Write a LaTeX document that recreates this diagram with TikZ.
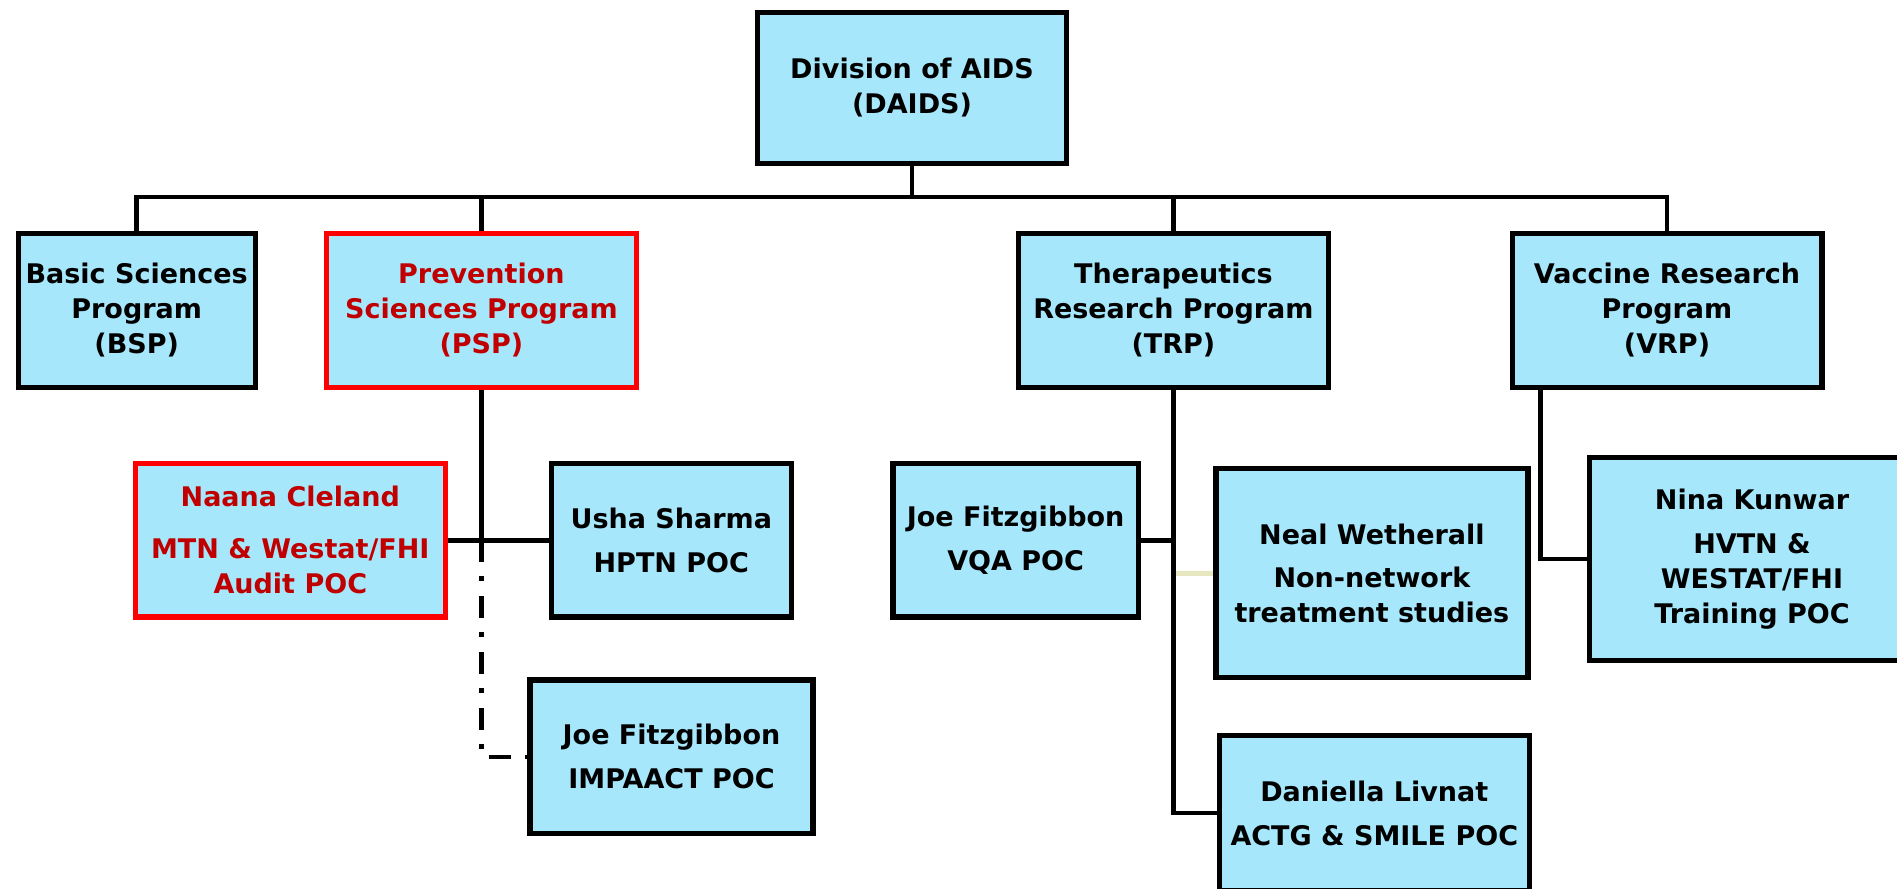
\documentclass[tikz,border=0pt]{standalone}
\usepackage{fontspec}
\setmainfont{DejaVu Sans}
\definecolor{boxfill}{RGB}{166,231,251}
\definecolor{darkred}{RGB}{192,0,0}
\definecolor{palelink}{RGB}{232,232,192}
\begin{document}
\begin{tikzpicture}[x=0.5pt,y=-0.5pt,
  orgbox/.style={draw=black, line width=2.6pt, fill=boxfill, inner sep=0pt, align=center,
    font=\bfseries\fontsize{13.5}{17.5}\selectfont},
  redbox/.style={orgbox, draw=red, text=darkred},
  conn/.style={line width=2.3pt, draw=black},
  dashdotline/.style={line width=2.3pt, draw=black, dash pattern=on 11pt off 7pt on 2.5pt off 7.5pt},
  paleline/.style={line width=2.5pt, draw=palelink}]
\useasboundingbox (0,0) rectangle (1897,889);
\clip (0,0) rectangle (1897,889);
\fill[white] (0,0) rectangle (1897,889);

% top level
\node[orgbox, minimum width=154.75pt, minimum height=75.5pt] (daids) at (912,88) {Division of AIDS\\(DAIDS)};

% programs
\node[orgbox, minimum width=118.5pt, minimum height=76.8pt] (bsp) at (136.7,310.3) {Basic Sciences\\Program\\(BSP)};
\node[redbox, minimum width=154.9pt, minimum height=76.8pt] (psp) at (481.4,310.3) {Prevention\\Sciences Program\\(PSP)};
\node[orgbox, minimum width=154.9pt, minimum height=76.8pt] (trp) at (1173.4,310.3) {Therapeutics\\Research Program\\(TRP)};
\node[orgbox, minimum width=154.9pt, minimum height=76.8pt] (vrp) at (1667,310.3) {Vaccine Research\\Program\\(VRP)};

% PSP staff
\node[redbox, minimum width=154.8pt, minimum height=76.7pt] (naana) at (290.3,540.2) {Naana Cleland\\[8.5pt]MTN \& Westat/FHI\\Audit POC};
\node[orgbox, minimum width=119.8pt, minimum height=76.7pt] (usha) at (671.3,540.2) {Usha Sharma\\[4.5pt]HPTN POC};
\node[orgbox, minimum width=141.5pt, minimum height=76.75pt] (impaact) at (671.5,756.8) {Joe Fitzgibbon\\[4.5pt]IMPAACT POC};

% TRP staff
\node[orgbox, minimum width=122.7pt, minimum height=76.7pt] (vqa) at (1015.6,540.2) {Joe Fitzgibbon\\[4.5pt]VQA POC};
\node[orgbox, minimum width=156pt, minimum height=104.5pt] (neal) at (1371.9,573) {Neal Wetherall\\[4pt]Non-network\\treatment studies};
\node[orgbox, minimum width=154.8pt, minimum height=77.5pt] (daniella) at (1374.3,813) {Daniella Livnat\\[4.5pt]ACTG \& SMILE POC};

% VRP staff
\node[orgbox, minimum width=162.5pt, minimum height=101.5pt] (nina) at (1752,559) {Nina Kunwar\\[4.5pt]HVTN \&\\WESTAT/FHI\\Training POC};

% bus
\coordinate (busy) at (912,197);
\draw[conn] (daids.south) -- (daids.south |- busy);
\draw[conn] (bsp.north) -- (bsp.north |- busy) -- (vrp.north |- busy) -- (vrp.north);
\draw[conn] (psp.north) -- (psp.north |- busy);
\draw[conn] (trp.north) -- (trp.north |- busy);

% PSP connectors
\coordinate (pspj) at (psp.south |- naana.east);
\draw[conn] (psp.south) -- (pspj);
\draw[conn] (naana.east) -- (usha.west);
\draw[dashdotline] (pspj) -- (pspj |- impaact.west) -- (impaact.west);

% TRP connectors
\draw[paleline] (neal.west -| trp.south) -- (neal.west);
\draw[conn] (trp.south) |- (daniella.west);
\draw[conn] (vqa.east) -- (vqa.east -| trp.south);

% VRP connector
\coordinate (vrpdrop) at ([xshift=15.5pt]vrp.south west);
\draw[conn] (vrpdrop) |- (nina.west);
\end{tikzpicture}
\end{document}
